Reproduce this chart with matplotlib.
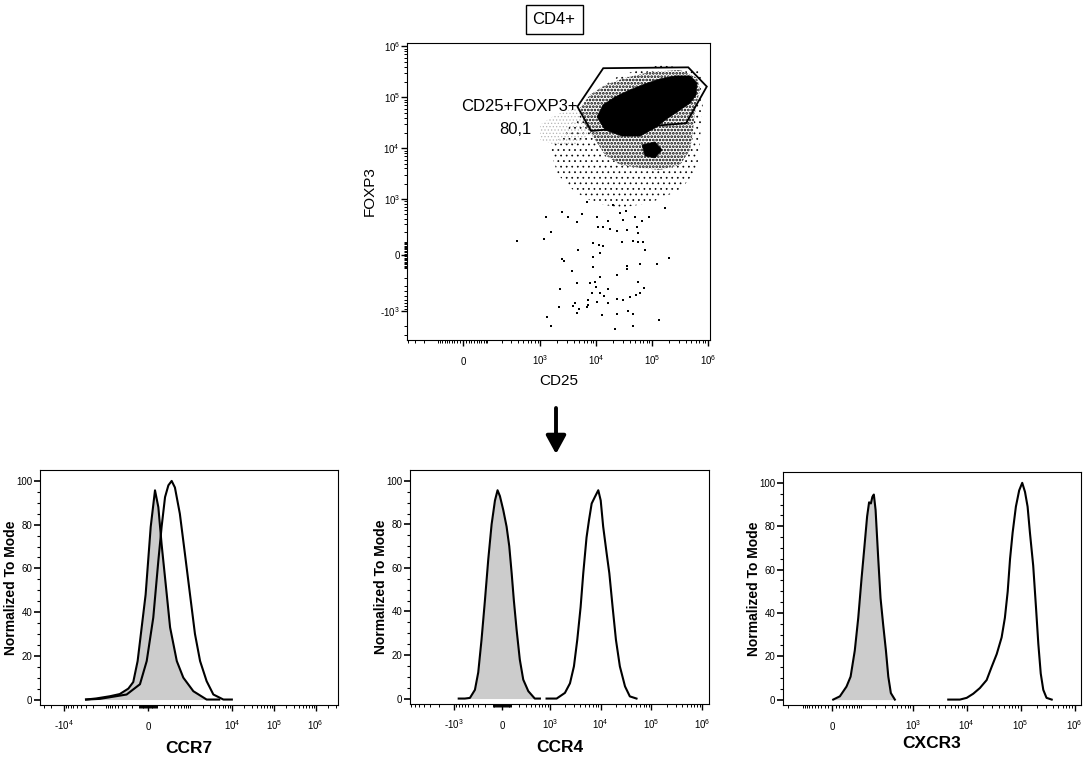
import matplotlib as mpl
import matplotlib.pyplot as plt
from matplotlib.patches import FancyArrowPatch
import numpy as np

plt.rcParams['font.family'] = ['Liberation Sans', 'DejaVu Sans']
plt.rcParams['mathtext.default'] = 'regular'
plt.rcParams['hatch.linewidth'] = 0.5

# ---------------- histogram data (fluorescence, % of mode) ----------------
ccr7_iso_x = [-3000, -1700, -800, -450, -260, -180, -120, -26, 30, 79, 120, 164,
              245, 307, 466, 682, 1200, 2500, 5000]
ccr7_iso_y = [0, 0.5, 1.5, 2.5, 5, 8, 17.6, 48, 79, 95.7, 88, 71, 48, 33, 17.6,
              10, 3.8, 0, 0]
ccr7_x = [-3000, -1400, -292, -91, -14, 59, 120, 164, 216, 274, 340, 416, 558,
          748, 996, 1312, 1742, 2500, 3620, 6280, 10000]
ccr7_y = [0, 0.3, 2.3, 7, 17.6, 37.5, 63.5, 79, 92.6, 98, 100, 97, 85, 66.6, 48,
          30, 17.6, 8.4, 2.3, 0, 0]

ccr4_iso_x = [-800, -596, -464, -358, -298, -245, -196, -152, -112, -74, -46, -21,
              14, 49, 78, 105, 131, 165, 208, 259, 346, 485, 624]
ccr4_iso_y = [0, 0, 0.3, 4, 12, 27, 45, 64, 80, 91, 95.7, 93, 86.6, 79, 70, 57.6,
              45, 31.6, 17.9, 8.7, 3.4, 0, 0]
ccr4_x = [855, 1363, 1991, 2506, 3000, 3490, 4060, 4580, 5310, 5940, 6700, 7780,
          9040, 10090, 11280, 13200, 14900, 17300, 20100, 24000, 30300, 37700, 51000]
ccr4_y = [0, 0, 2.6, 7, 14.8, 27, 42, 57.6, 74, 82, 89.6, 92.7, 95.7, 91, 79, 66.7,
          57.6, 42, 27, 14.8, 5.6, 1, 0]

cxcr3_iso_x = [3.6, 22, 42, 56, 72, 87, 103, 117, 135, 148, 161, 172, 184, 199, 224,
               248, 278, 314, 348, 389, 462]
cxcr3_iso_y = [0, 1.5, 6, 10.6, 22.6, 37.7, 55.8, 69, 84.5, 91, 90.5, 93.5, 94.6,
               87.5, 65, 46.8, 34.7, 22.6, 10.6, 3, 0]
cxcr3_x = [4540, 7480, 9990, 13200, 17500, 23400, 28900, 36000, 44400, 51000, 57500,
           63600, 71000, 81600, 93900, 107000, 120500, 134600, 148700, 171000,
           193000, 213000, 236000, 263000, 302000, 377000]
cxcr3_y = [0, 0, 0.8, 2.7, 5.3, 9, 15, 21, 28.7, 37.7, 49.8, 64.9, 77, 89, 96.5, 100,
           95.8, 89, 77, 61.8, 42.2, 25.6, 12, 4.5, 0.8, 0]

hist_names = ['CCR7', 'CCR4', 'CXCR3']
hist_major = [[-1e4, 0, 1e4, 1e5, 1e6],
              [-1e3, 0, 1e3, 1e4, 1e5, 1e6],
              [0, 1e3, 1e4, 1e5, 1e6]]

# ---------------- CD25 / FOXP3 dot plot ----------------
gate_cd25 = [13460, 444000, 952000, 406000, 8160, 4660]
gate_foxp3 = [374000, 389000, 163000, 31000, 21900, 65600]
gate_name = 'CD25+FOXP3+'
gate_pct = '80,1'

# density outlines (sparse fringe, dense body, core)
fringe_cd25 = [1506, 4215, 7815, 26900, 139000, 722000, 818000, 722000, 638000,
               317000, 92300, 26900, 9600, 4215, 2094]
fringe_foxp3 = [9250, 36000, 112000, 276000, 433000, 345000, 89000, 14600, 3740,
                1510, 830, 663, 830, 1380, 2990]
body_cd25 = [5180, 7815, 14500, 33000, 92300, 317000, 638000, 722000, 588000, 542000,
             479000, 317000, 139000, 61200, 26900, 14500, 9600, 6360]
body_foxp3 = [62000, 112000, 175000, 241000, 316000, 345000, 241000, 140000, 56600,
              22900, 9250, 4690, 3740, 4100, 4690, 7380, 14600, 28700]
core_cd25 = [10430, 13350, 21850, 40500, 75200, 139000, 258000, 479000, 638000,
             612000, 479000, 317000, 194000, 113000, 61200, 29200, 14500]
core_foxp3 = [41200, 70900, 101800, 140000, 183500, 230000, 263500, 263500, 192000,
              112000, 77600, 56600, 39400, 25000, 17400, 17400, 22900]
spot_cd25 = [66400, 113000, 151000, 113000, 75200]
spot_foxp3 = [11600, 13300, 9250, 6450, 7060]
outside_cd25 = [997, 1851, 4215, 6363, 7200, 4215, 1851, 997]
outside_foxp3 = [28700, 45100, 62000, 51700, 18200, 11600, 11600, 14600]

# single events below the main population
dots_cd25 = [379, 1190, 1550, 1280, 2460, 4530, 5640, 3190, 7020, 10300, 10700, 13500,
             16600, 17800, 24000, 30900, 35500, 53500, 55700, 20500, 26900, 34400,
             49900, 65400, 89900, 169000, 8900, 11300, 13500, 11800, 4710, 2460, 2690,
             3670, 8900, 8900, 11800, 23600, 35500, 35500, 29100, 45200, 57000, 70100,
             74400, 60900, 122000, 198000, 55700, 72200, 2270, 4620, 7850, 9580, 10000,
             16600, 8400, 11800, 14000, 23600, 30900, 40400, 51800, 60900, 7320, 10300,
             7320, 4220, 3930, 4910, 2180, 4620, 6820, 16600, 37700, 45200, 23600,
             12800, 1310, 1550, 22000, 45200, 136000]
dots_foxp3 = [111, 123, 202, 428, 557, 344, 501, 437, 884, 428, 254, 266, 355, 230,
              211, 371, 222, 266, 184, 758, 517, 581, 437, 355, 428, 664, 89, 75, 67,
              16, 36, -29, -41, -123, -17, -96, -190, -165, -83, -112, 99, 107, 102,
              96, 36, -67, -67, -19, -245, -338, -361, -264, -264, -245, -315, -361,
              -426, -426, -500, -581, -603, -517, -475, -437, -603, -651, -758, -685,
              -797, -930, -848, -1083, -824, -706, -998, -1150, -1150, -1198, -1338,
              -1958, -2270, -1958, -1510]


def set_asinh(ax, axis, c):
    fwd = lambda v: np.arcsinh(np.asarray(v, dtype=float) / c)
    inv = lambda v: c * np.sinh(np.asarray(v, dtype=float))
    if axis == 'x':
        ax.set_xscale('function', functions=(fwd, inv))
    else:
        ax.set_yscale('function', functions=(fwd, inv))


def minor_ticks(lo, hi):
    t = []
    for n in range(1, 7):
        for k in range(1, 10):
            for s in (-1, 1):
                v = s * k * 10 ** n
                if lo < v < hi:
                    t.append(v)
    return sorted(t)


def fmt(v):
    if v == 0:
        return '0'
    s = r'$\mathregular{10^{%d}}$' % int(round(np.log10(abs(v))))
    return '-' + s if v < 0 else s


def style_axis(ax, which, major, lo, hi, pad):
    axis = ax.xaxis if which == 'x' else ax.yaxis
    axis.set_ticks(major, [fmt(v) for v in major])
    axis.set_ticks(minor_ticks(lo, hi), minor=True)
    ax.tick_params(axis=which, which='major', length=4, width=1, labelsize=7, pad=pad)
    ax.tick_params(axis=which, which='minor', length=2.3, width=0.7)


fig = plt.figure(figsize=(10.84, 7.60), dpi=100)
W, H = 1084.0, 760.0


def add_axes_px(left, top, right, bottom):
    return fig.add_axes([left / W, 1 - bottom / H, (right - left) / W, (bottom - top) / H])


# ---------- dot plot ----------
ax = add_axes_px(407, 43, 710, 340)
set_asinh(ax, 'x', 84)
set_asinh(ax, 'y', 160)
xlim = (-415, 1.086e6)
ylim = (-3760, 1.17e6)

ax.fill(fringe_cd25, fringe_foxp3, facecolor='none', edgecolor='black', lw=0, hatch='...')
ax.fill(outside_cd25, outside_foxp3, facecolor='none', edgecolor='#b5b5b5', lw=0, hatch='.....')
with plt.rc_context({'hatch.linewidth': 1.3}):
    body = ax.fill(body_cd25, body_foxp3, facecolor='white', edgecolor='black', lw=0,
                   hatch='.....')[0]
    if hasattr(body, 'set_hatch_linewidth'):
        body.set_hatch_linewidth(1.3)
ax.fill(core_cd25, core_foxp3, facecolor='black', edgecolor='black', lw=0.5)
ax.fill(spot_cd25, spot_foxp3, facecolor='black', edgecolor='black', lw=0.5)
ax.scatter(dots_cd25, dots_foxp3, s=3, marker='s', color='black', lw=0)
ax.fill(gate_cd25, gate_foxp3, facecolor='none', edgecolor='black', lw=1.3)
ax.text(gate_cd25[-1], gate_foxp3[-1], gate_name, ha='right', va='center', fontsize=12)
ax.text(352, 22900, gate_pct, ha='center', va='center', fontsize=12)

ax.set_xlim(*xlim)
ax.set_ylim(*ylim)
style_axis(ax, 'x', [0, 1e3, 1e4, 1e5, 1e6], *xlim, pad=14)
style_axis(ax, 'y', [-1e3, 0, 1e3, 1e4, 1e5, 1e6], *ylim, pad=1)
for t in ax.get_xticklabels():
    t.set_verticalalignment('baseline')
ax.set_xlabel('CD25', fontsize=11)
ax.xaxis.set_label_coords(0.5, -0.114)
ax.set_ylabel('FOXP3', fontsize=11)
ax.yaxis.set_label_coords(-0.10, 0.5)
for sp in ax.spines.values():
    sp.set_linewidth(0.8)

fig.text(554 / W, 1 - 19 / H, 'CD4+', ha='center', va='center', fontsize=12,
         bbox=dict(boxstyle='square,pad=0.42', fc='white', ec='black', lw=1))

arrow = FancyArrowPatch((556 / W, 1 - 408 / H), (556 / W, 1 - 454 / H),
                        transform=fig.transFigure, color='black', lw=2.8,
                        arrowstyle='-|>,head_width=0.3,head_length=0.55',
                        mutation_scale=20, shrinkA=0, shrinkB=0)
fig.add_artist(arrow)

# ---------- histograms ----------
hist_boxes = [(40, 470, 338, 705), (410, 470, 709, 704), (783, 472, 1081, 705)]
hist_c = [200, 231, 63]
hist_xlim = [(-37600, 3.4e6), (-7400, 1.356e6), (-250, 1.317e6)]
hist_label_y = [-0.153, -0.153, -0.135]
iso = [(ccr7_iso_x, ccr7_iso_y), (ccr4_iso_x, ccr4_iso_y), (cxcr3_iso_x, cxcr3_iso_y)]
pos = [(ccr7_x, ccr7_y), (ccr4_x, ccr4_y), (cxcr3_x, cxcr3_y)]

for i in range(3):
    ax = add_axes_px(*hist_boxes[i])
    set_asinh(ax, 'x', hist_c[i])
    ix, iy = iso[i]
    px, py = pos[i]
    ax.fill_between(ix, 0, iy, color='#cccccc', lw=0)
    ax.plot(ix, iy, color='black', lw=1.5)
    ax.plot(px, py, color='black', lw=1.5)
    ax.set_xlim(*hist_xlim[i])
    ax.set_ylim(-2.5, 105)
    style_axis(ax, 'x', hist_major[i], *hist_xlim[i], pad=14)
    for t in ax.get_xticklabels():
        t.set_verticalalignment('baseline')
    ax.set_yticks([0, 20, 40, 60, 80, 100])
    ax.set_yticks(np.arange(0, 101, 5), minor=True)
    ax.tick_params(axis='y', which='major', length=4, width=1.2, labelsize=7, pad=1.5)
    ax.tick_params(axis='y', which='minor', length=2.3, width=0.8)
    ax.set_xlabel(hist_names[i], fontsize=12.5, fontweight='bold')
    ax.xaxis.set_label_coords(0.5, hist_label_y[i])
    ax.set_ylabel('Normalized To Mode', fontsize=10, fontweight='bold')
    ax.yaxis.set_label_coords(-0.075, 0.5)
    for sp in ax.spines.values():
        sp.set_linewidth(0.8)

plt.savefig('out.png', dpi=100)
